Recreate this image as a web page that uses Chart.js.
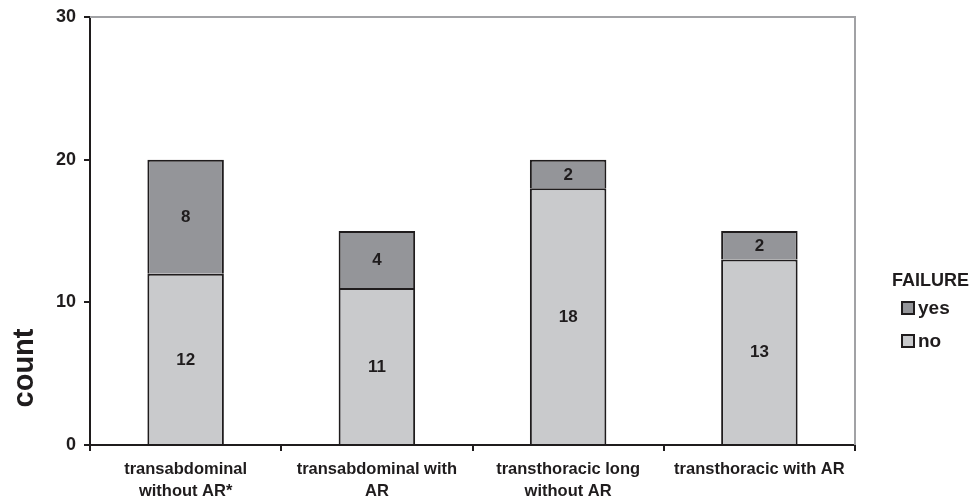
<!DOCTYPE html>
<html>
<head>
<meta charset="utf-8">
<script src="https://cdn.jsdelivr.net/npm/chart.js@4.4.0/dist/chart.umd.min.js"></script>
<style>
  html, body { margin: 0; padding: 0; background: #fff; }
  #wrap { width: 973px; height: 500px; }
</style>
</head>
<body>
<div id="wrap"><canvas id="barChart" width="973" height="500"></canvas></div>
<script>
// chart data
const categories = [
    ['transabdominal', 'without AR*'],
    ['transabdominal with', 'AR'],
    ['transthoracic long', 'without AR'],
    ['transthoracic with AR']
];
const noCounts = [12, 11, 18, 13];
const yesCounts = [8, 4, 2, 2];
const yTicks = [0, 10, 20, 30];

const ink = '#1f1c1d';
const fontFamily = '"Liberation Sans", Arial, sans-serif';

// values in the middle of each segment
const segmentLabels = {
    id: 'segmentLabels',
    afterDatasetsDraw(chart) {
        const ctx = chart.ctx;
        ctx.save();
        ctx.fillStyle = ink;
        ctx.font = 'bold 17px ' + fontFamily;
        ctx.textAlign = 'center';
        ctx.textBaseline = 'middle';
        chart.data.datasets.forEach((ds, i) => {
            chart.getDatasetMeta(i).data.forEach((bar, j) => {
                const mid = (bar.y + bar.base) / 2;
                ctx.fillText(ds.data[j], bar.x, mid + 1);
            });
        });
        ctx.restore();
    }
};

// gray frame on top/right, axis title, legend
const decorations = {
    id: 'decorations',
    beforeDatasetsDraw(chart) {
        const { ctx, chartArea } = chart;
        ctx.save();
        ctx.strokeStyle = '#a1a2a5';
        ctx.lineWidth = 2;
        ctx.beginPath();
        ctx.moveTo(chartArea.left, chartArea.top);
        ctx.lineTo(chartArea.right, chartArea.top);
        ctx.lineTo(chartArea.right, chartArea.bottom);
        ctx.stroke();
        ctx.restore();
    },
    afterDraw(chart) {
        const ctx = chart.ctx;
        ctx.save();
        ctx.fillStyle = ink;

        // y axis title
        ctx.translate(25, 368);
        ctx.rotate(-Math.PI / 2);
        ctx.font = 'bold 29px ' + fontFamily;
        ctx.textAlign = 'center';
        ctx.textBaseline = 'middle';
        ctx.fillText('count', 0, 0);
        ctx.setTransform(1, 0, 0, 1, 0, 0);

        // legend
        ctx.font = 'bold 18px ' + fontFamily;
        ctx.textAlign = 'left';
        ctx.fillText('FAILURE', 892, 281);
        const items = [chart.data.datasets[1], chart.data.datasets[0]];
        items.forEach((ds, i) => {
            const y = 302 + i * 33;
            ctx.fillStyle = ds.backgroundColor;
            ctx.fillRect(902, y, 12, 12);
            ctx.strokeStyle = ink;
            ctx.lineWidth = 2;
            ctx.strokeRect(902, y, 12, 12);
            ctx.fillStyle = ink;
            ctx.font = 'bold 19px ' + fontFamily;
            ctx.fillText(ds.label, 918, y + 7);
        });
        ctx.restore();
    }
};

new Chart(document.getElementById('barChart').getContext('2d'), {
    type: 'bar',
    data: {
        labels: categories,
        datasets: [
            {
                label: 'no',
                data: noCounts,
                backgroundColor: '#c9cacc',
                borderColor: ink,
                borderWidth: { top: 2, left: 2, right: 2, bottom: 0 },
                borderSkipped: false
            },
            {
                label: 'yes',
                data: yesCounts,
                backgroundColor: '#949599',
                borderColor: ink,
                borderWidth: { top: 2, left: 2, right: 2, bottom: 0 },
                borderSkipped: false
            }
        ]
    },
    options: {
        responsive: false,
        animation: false,
        devicePixelRatio: 1,
        layout: { padding: { top: 16, right: 118, left: 0, bottom: 0 } },
        datasets: { bar: { barPercentage: 0.4, categoryPercentage: 1 } },
        plugins: {
            legend: { display: false },
            tooltip: { enabled: false }
        },
        scales: {
            x: {
                stacked: true,
                afterFit(scale) { scale.height = 55; },
                border: { color: ink, width: 2 },
                grid: {
                    offset: true,
                    drawOnChartArea: false,
                    color: ink,
                    lineWidth: 2,
                    tickLength: 6
                },
                ticks: {
                    color: ink,
                    padding: 7,
                    maxRotation: 0,
                    font: { family: fontFamily, size: 16.5, weight: 'bold', lineHeight: 1.35 }
                }
            },
            y: {
                stacked: true,
                min: 0,
                max: 30,
                afterFit(scale) { scale.width = 90; },
                afterBuildTicks(scale) {
                    scale.ticks = yTicks.map(v => ({ value: v }));
                },
                border: { color: ink, width: 2 },
                grid: {
                    drawOnChartArea: false,
                    color: ink,
                    lineWidth: 2,
                    tickLength: 6
                },
                ticks: {
                    color: ink,
                    padding: 8,
                    font: { family: fontFamily, size: 18, weight: 'bold', lineHeight: 1 }
                }
            }
        }
    },
    plugins: [decorations, segmentLabels]
});
</script>
</body>
</html>
